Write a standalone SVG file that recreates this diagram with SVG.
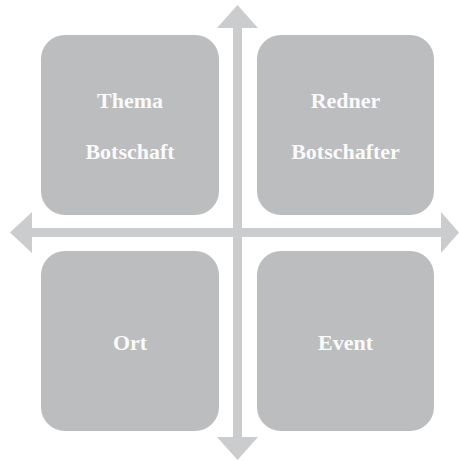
<svg xmlns="http://www.w3.org/2000/svg" width="459" height="461" viewBox="0 0 459 461">
<style>
.box{fill:#bcbdbf}
.arr{fill:#cbcccd}
.lbl{font-family:"Liberation Serif","Times New Roman",serif;font-size:22px;font-weight:bold;fill:#fafafa;text-anchor:middle}
</style>
<rect width="459" height="461" fill="#ffffff"/>
<g id="connectors">
<polygon class="arr" points="233,28 217,28 237.5,5 258,28 242,28 242,437 258,437 237.5,460 217,437 233,437"/>
<polygon class="arr" points="32,228 32,212 10,232.5 32,253 32,237 441,237 441,253 459,232.5 441,212 441,228"/>
</g>
<g id="node-thema">
<rect class="box" x="41" y="35" width="178" height="180" rx="24" ry="24"/>
<text class="lbl" x="130" y="108">Thema</text>
<text class="lbl" x="130" y="159">Botschaft</text>
</g>
<g id="node-redner">
<rect class="box" x="257" y="35" width="177" height="180" rx="24" ry="24"/>
<text class="lbl" x="345.5" y="108">Redner</text>
<text class="lbl" x="345.5" y="159">Botschafter</text>
</g>
<g id="node-ort">
<rect class="box" x="41" y="251" width="178" height="180" rx="24" ry="24"/>
<text class="lbl" x="130" y="350">Ort</text>
</g>
<g id="node-event">
<rect class="box" x="257" y="251" width="177" height="180" rx="24" ry="24"/>
<text class="lbl" x="345.5" y="350">Event</text>
</g>
</svg>
